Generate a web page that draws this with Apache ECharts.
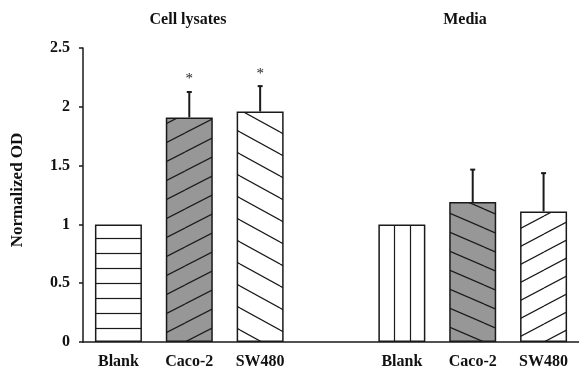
<!DOCTYPE html>
<html>
<head>
<meta charset="utf-8">
<script src="https://cdn.jsdelivr.net/npm/echarts@6/dist/echarts.min.js"></script>
<style>
  html, body { margin: 0; padding: 0; background: #fff; }
  #chart { width: 579px; height: 371px; }
</style>
</head>
<body>
<div id="chart"></div>
<script>
// Group headings and the x-axis slots (the empty slot separates the two groups)
const groupTitles = ['Cell lysates', 'Media'];
const categories = ['Blank', 'Caco-2', 'SW480', '', 'Blank', 'Caco-2', 'SW480'];
// Mean normalized OD per slot (null = spacer)
const means = [1, 1.91, 1.96, null, 1, 1.19, 1.11];
// Standard deviation drawn as an upward error bar (0 = none)
const sds = [0, 0.22, 0.22, null, 0, 0.28, 0.33];
// Significance markers placed above the error bars
const marks = ['', '*', '*', '', '', '', ''];
const yTicks = { min: 0, max: 2.5, interval: 0.5 };

const FONT = '"Liberation Serif", "Times New Roman", serif';
const GRAY = '#979797';
const INK = '#1a1a1a';

// --- hatch fills -------------------------------------------------------
function tile(w, h, fill) {
  const c = document.createElement('canvas');
  c.width = w; c.height = h;
  const ctx = c.getContext('2d');
  ctx.fillStyle = fill;
  ctx.fillRect(0, 0, w, h);
  ctx.strokeStyle = INK;
  ctx.lineWidth = 1.2;
  return { c, ctx };
}
function horizontal(h, offset, fill) {
  const { c, ctx } = tile(8, h, fill);
  ctx.beginPath(); ctx.moveTo(0, offset + 0.5); ctx.lineTo(8, offset + 0.5); ctx.stroke();
  return { image: c, repeat: 'repeat' };
}
function vertical(w, offset, fill) {
  const { c, ctx } = tile(w, 8, fill);
  ctx.beginPath(); ctx.moveTo(offset + 0.5, 0); ctx.lineTo(offset + 0.5, 8); ctx.stroke();
  return { image: c, repeat: 'repeat' };
}
function diagonal(w, h, rising, fill) {
  const { c, ctx } = tile(w, h, fill);
  ctx.beginPath();
  for (let k = -1; k <= 1; k++) {
    if (rising) { ctx.moveTo(0, h + k * h); ctx.lineTo(w, k * h); }
    else { ctx.moveTo(0, k * h); ctx.lineTo(w, h + k * h); }
  }
  ctx.stroke();
  return { image: c, repeat: 'repeat' };
}

const fills = [
  horizontal(15, 13, '#fff'),
  diagonal(37, 19, true, GRAY),
  diagonal(40, 22, false, '#fff'),
  null,
  vertical(16, 10, '#fff'),
  diagonal(44, 19, false, GRAY),
  diagonal(34, 18, true, '#fff')
];

const barData = means.map((v, i) => v == null ? '-' : {
  value: v,
  itemStyle: { color: fills[i], borderColor: INK, borderWidth: 1.5 }
});
const errData = means.map((v, i) => v == null ? null : [i, v, sds[i], marks[i]]).filter(Boolean);

const titleStyle = { font: 'bold 16px ' + FONT, fill: '#111', textAlign: 'center', textVerticalAlign: 'middle' };

const chart = echarts.init(document.getElementById('chart'), null, { renderer: 'canvas' });
chart.setOption({
  animation: false,
  backgroundColor: '#fff',
  grid: { left: 83, right: 0, top: 48, bottom: 29 },
  graphic: [
    { type: 'text', x: 188, y: 20, style: Object.assign({ text: groupTitles[0] }, titleStyle) },
    { type: 'text', x: 465, y: 20, style: Object.assign({ text: groupTitles[1] }, titleStyle) }
  ],
  xAxis: {
    type: 'category',
    data: categories,
    axisLine: { lineStyle: { color: INK, width: 1.5 } },
    axisTick: { show: false },
    axisLabel: { color: '#111', fontFamily: FONT, fontWeight: 'bold', fontSize: 16, margin: 12, interval: 0 }
  },
  yAxis: {
    type: 'value',
    min: yTicks.min, max: yTicks.max, interval: yTicks.interval,
    name: 'Normalized OD',
    nameLocation: 'middle',
    nameRotate: 90,
    nameGap: 57,
    nameTextStyle: { color: '#111', fontFamily: FONT, fontWeight: 'bold', fontSize: 17, padding: [0, 0, 0, 10] },
    splitLine: { show: false },
    axisLine: { show: true, lineStyle: { color: INK, width: 1.5 } },
    axisTick: { show: true, length: 4, lineStyle: { color: INK, width: 1.5 } },
    axisLabel: { color: '#111', fontFamily: FONT, fontWeight: 'bold', fontSize: 16, margin: 13 }
  },
  series: [
    {
      type: 'bar',
      data: barData,
      barWidth: 47,
      z: 2
    },
    {
      type: 'custom',
      data: errData,
      encode: { x: 0, y: 1 },
      z: 3,
      renderItem: function (params, api) {
        const x = api.value(0), m = api.value(1), sd = api.value(2);
        const mark = errData[params.dataIndex][3];
        const p0 = api.coord([x, m]);
        const p1 = api.coord([x, m + sd]);
        const children = [];
        if (sd > 0) {
          children.push({ type: 'line', shape: { x1: p0[0], y1: p0[1], x2: p1[0], y2: p1[1] }, style: { stroke: INK, lineWidth: 2 } });
          children.push({ type: 'line', shape: { x1: p1[0] - 2.5, y1: p1[1] + 0.5, x2: p1[0] + 2.5, y2: p1[1] + 0.5 }, style: { stroke: INK, lineWidth: 2 } });
        }
        if (mark) {
          children.push({ type: 'text', x: p1[0], y: p1[1] - 12, style: { text: mark, font: '15px ' + FONT, fill: '#222', textAlign: 'center', textVerticalAlign: 'middle' } });
        }
        return { type: 'group', children };
      }
    }
  ]
});
</script>
</body>
</html>
